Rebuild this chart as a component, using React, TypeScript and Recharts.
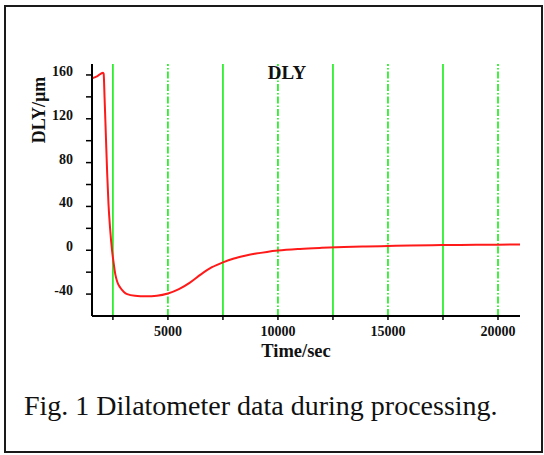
import React from "react";
import { LineChart, Line, XAxis, YAxis, ReferenceLine } from "recharts";

// dilatometer trace
const times = [
  1550, 1800, 2050, 2080, 2120, 2180, 2240, 2300, 2380, 2460, 2530, 2610, 2700,
  2830, 3000, 3150, 3500, 4000, 4500, 5000, 5500, 6000, 6500, 7000, 7500, 8000,
  8500, 9000, 9500, 10000, 11000, 12000, 13000, 14000, 15000, 16000, 17000,
  18000, 19000, 20000, 21000,
];
const dly = [
  157, 159, 162, 161, 140, 105, 70, 42, 18, 0, -11, -22, -29, -34, -38, -40,
  -41.5, -42, -41.5, -39.5, -35.5, -29.5, -22, -15.5, -11, -7.5, -5, -3, -1.5,
  -0.3, 1.2, 2.2, 3, 3.5, 3.9, 4.3, 4.6, 4.8, 5, 5.1, 5.2,
];

const xTicks = [2500, 5000, 7500, 10000, 12500, 15000, 17500, 20000];
const yTicks = [-40, -20, 0, 20, 40, 60, 80, 100, 120, 140, 160];
const solidGrid = [2500, 7500, 12500, 17500];
const dashGrid = [5000, 10000, 15000, 20000];

const data = times.map((t, i) => ({ t, v: dly[i] }));

const serif = "Liberation Serif, DejaVu Serif, serif";
const bold = { fontFamily: serif, fontWeight: 700 } as const;
const green = "#14ee14";

function YTick({ x, y, payload }: any) {
  if (payload.value % 40 !== 0) return <g />;
  return (
    <text x={x} y={y} dy={1} textAnchor="end" style={bold} fontSize={14} fill="#111">
      {payload.value}
    </text>
  );
}

function XTick({ x, y, payload }: any) {
  if (payload.value % 5000 !== 0) return <g />;
  return (
    <text x={x} y={y} dy={12} textAnchor="middle" style={bold} fontSize={14} fill="#111">
      {payload.value}
    </text>
  );
}

export default function App() {
  return (
    <div style={{ position: "absolute", left: 0, top: 0, width: 544, height: 455, background: "#fff" }}>
      <div
        style={{
          position: "absolute",
          left: 4,
          top: 5,
          width: 539,
          height: 448,
          border: "2px solid #1a1a1a",
          boxSizing: "border-box",
        }}
      />
      <LineChart width={544} height={455} data={data} margin={{ top: 64, right: 24, bottom: 109, left: 32 }}>
        <XAxis
          dataKey="t"
          type="number"
          domain={[1550, 21000]}
          ticks={xTicks}
          interval={0}
          tick={<XTick />}
          tickSize={4}
          tickMargin={4}
          height={30}
          axisLine={{ stroke: "#000", strokeWidth: 2 }}
          tickLine={{ stroke: "#000", strokeWidth: 1.5 }}
          allowDataOverflow
        />
        <YAxis
          type="number"
          domain={[-60, 170]}
          ticks={yTicks}
          interval={0}
          tick={<YTick />}
          tickSize={6}
          tickMargin={13}
          width={60}
          axisLine={{ stroke: "#000", strokeWidth: 2 }}
          tickLine={{ stroke: "#000", strokeWidth: 1.5 }}
          allowDataOverflow
        />
        {solidGrid.map((v) => (
          <ReferenceLine key={"s" + v} x={v} stroke={green} strokeWidth={1.6} />
        ))}
        {dashGrid.map((v) => (
          <ReferenceLine key={"d" + v} x={v} stroke={green} strokeWidth={1.6} strokeDasharray="7 2 1.5 2" />
        ))}
        <Line
          type="monotone"
          dataKey="v"
          stroke="#ff1a1a"
          strokeWidth={2}
          dot={false}
          isAnimationActive={false}
        />
      </LineChart>
      <svg
        width={544}
        height={455}
        style={{ position: "absolute", left: 0, top: 0, pointerEvents: "none" }}
      >
        <text x={287} y={79} textAnchor="middle" style={bold} fontSize={19} fill="#111">
          DLY
        </text>
        <text transform="translate(45,110) rotate(-90)" textAnchor="middle" style={bold} fontSize={18} fill="#111">
          DLY/µm
        </text>
        <text x={296} y={357} textAnchor="middle" style={bold} fontSize={18.5} fill="#111">
          Time/sec
        </text>
        <text x={24} y={415} style={{ fontFamily: serif }} fontSize={28} fill="#111">
          Fig. 1 Dilatometer data during processing.
        </text>
      </svg>
    </div>
  );
}
